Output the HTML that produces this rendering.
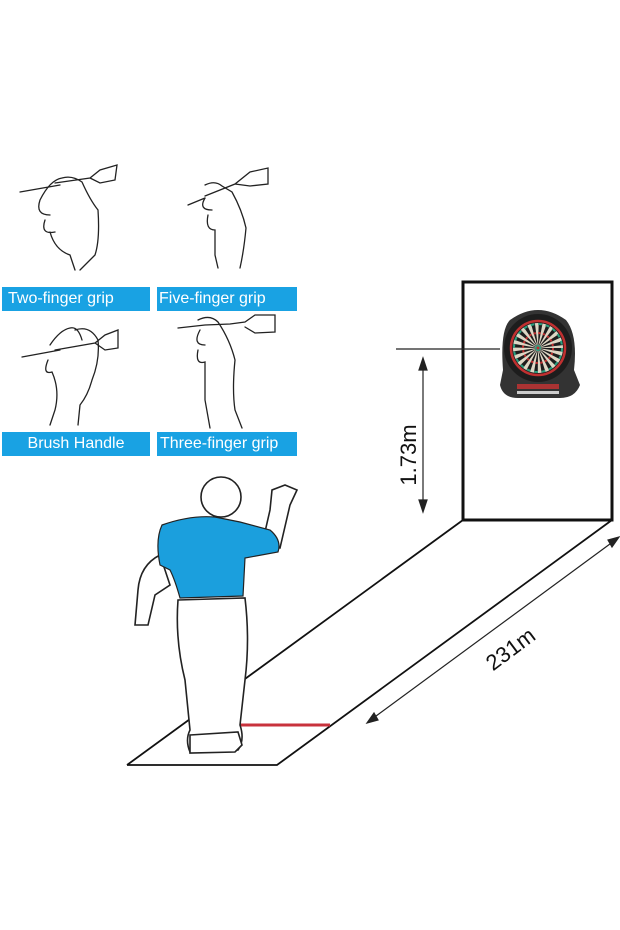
<!DOCTYPE html>
<html><head><style>
body{margin:0;background:#fff;width:620px;height:930px;overflow:hidden;font-family:"Liberation Sans",sans-serif}
.lb{position:absolute;background:#19a2e3;color:#fff;font-size:16px;line-height:24px;height:24px;white-space:nowrap;overflow:hidden}
</style></head><body>
<svg width="620" height="930" style="position:absolute;left:0;top:0" xmlns="http://www.w3.org/2000/svg">
<g fill="none" stroke="#222" stroke-width="1.3" stroke-linecap="round">
<path d="M20 192 L60 185 M55 183 L90 178 L100 170 L117 165 L115 180 L100 183 L90 178"/>
<path d="M40 200 Q50 180 62 178 Q72 175 82 182 Q90 200 98 210 Q100 240 95 255 L80 270 M40 200 Q35 215 50 215 M45 220 Q40 235 55 232 M50 232 Q55 250 70 255 L75 270"/>
<path d="M188 205 L205 198 M205 196 L235 184 L250 172 L268 168 L268 184 L250 186 L235 184"/>
<path d="M205 185 Q215 180 222 186 L232 192 Q242 210 246 228 Q244 250 240 268 M205 198 Q198 210 212 210 M208 215 Q205 230 215 230 L215 255 L218 268"/>
<path d="M22 357 L60 350 M55 350 L95 343 L105 335 L118 330 L118 348 L105 350 L95 343"/>
<path d="M50 345 Q60 330 70 328 Q78 326 82 340 M75 330 Q90 325 98 340 Q100 360 92 380 Q88 395 80 405 M48 360 Q42 375 52 372 Q60 390 55 410 L50 425 M80 405 L78 425"/>
<path d="M178 328 L205 325 L230 324 L245 322 L255 315 L275 315 L275 332 L255 333 L245 327"/>
<path d="M198 320 Q210 314 218 322 Q230 340 235 360 Q232 390 235 410 L242 428 M200 330 Q192 345 205 345 M198 350 Q195 365 205 362 L205 400 L210 428"/>
</g>
<g fill="none" stroke="#111" stroke-width="1.8">
<path d="M127 765 L463 520 M127 765 L277 765 L612 520"/>
<rect x="463" y="282" width="149" height="238" stroke-width="3"/>
</g>
<line x1="222" y1="725" x2="330" y2="725" stroke="#c8323c" stroke-width="3"/>
<g>
<path d="M503 370 Q500 330 510 320 Q538 300 566 320 Q578 335 574 370 L580 385 Q575 398 560 398 L518 398 Q503 398 500 385 Z" fill="#333"/>
<circle cx="538" cy="348" r="34" fill="#1d1d1d"/>
<circle cx="538" cy="348" r="27" fill="none" stroke="#c03030" stroke-width="2.5"/>
<circle cx="538" cy="348" r="25" fill="#ddd6c4"/>
<circle cx="538" cy="348" r="12.5" fill="none" stroke="#1d1d1d" stroke-width="25" stroke-dasharray="1.963 1.963"/>
<circle cx="538" cy="348" r="24" fill="none" stroke="#2aa080" stroke-width="2" stroke-dasharray="3.77 3.77"/>
<circle cx="538" cy="348" r="15" fill="none" stroke="#c03030" stroke-width="2" stroke-dasharray="2.36 2.36"/>
<circle cx="538" cy="348" r="3" fill="#2aa080"/>
<circle cx="538" cy="348" r="1.5" fill="#c03030"/>
<rect x="517" y="384" width="42" height="5" fill="#a33"/>
<rect x="517" y="391" width="42" height="3" fill="#ccc"/>
</g>
<g stroke="#222" stroke-width="1.2" fill="#222">
<line x1="396" y1="349" x2="500" y2="349"/>
<line x1="423" y1="365" x2="423" y2="505"/>
<path d="M423 358 L419 370 L427 370Z M423 512 L419 500 L427 500Z"/>
<line x1="372" y1="719" x2="614" y2="541"/>
<path d="M367 723 L374 713 L378 720Z M619 537 L612 547 L608 540Z"/>
</g>
<text x="0" y="0" transform="translate(416,455) rotate(-90)" text-anchor="middle" font-size="22" font-family="Liberation Sans" fill="#111">1.73m</text>
<text x="0" y="0" transform="translate(515,655) rotate(-37)" text-anchor="middle" font-size="22" font-family="Liberation Sans" fill="#111">231m</text>
<g stroke="#222" stroke-width="1.6" fill="#fff">
<path d="M178 600 L245 598 Q250 640 245 680 L240 725 Q245 740 238 750 L190 752 Q185 740 190 730 L185 680 Q175 640 178 600Z"/>
<path d="M190 735 L238 732 L242 745 L235 752 L190 753Z"/>
<path d="M160 555 Q140 565 138 590 L135 625 L148 625 L155 595 L170 585Z"/>
<path d="M262 545 L280 548 L290 505 L297 490 L285 485 L272 490 L270 510Z"/>
<circle cx="221" cy="497" r="20"/>
</g>
<path d="M162 525 Q190 515 215 517 L240 522 L270 530 Q282 540 278 552 L245 558 L243 596 L180 598 Q175 580 170 570 L160 565 Q155 540 162 525Z" fill="#1b9fdd" stroke="#222" stroke-width="1.2"/>
</svg>
<div class="lb" style="left:2px;top:287px;width:148px;padding-left:6px;box-sizing:border-box">Two-finger grip</div>
<div class="lb" style="left:157px;top:287px;width:140px;padding-left:2px;box-sizing:border-box">Five-finger grip</div>
<div class="lb" style="left:2px;top:432px;width:148px;text-align:center">Brush Handle</div>
<div class="lb" style="left:157px;top:432px;width:140px;padding-left:3px;box-sizing:border-box">Three-finger grip</div>
</body></html>
